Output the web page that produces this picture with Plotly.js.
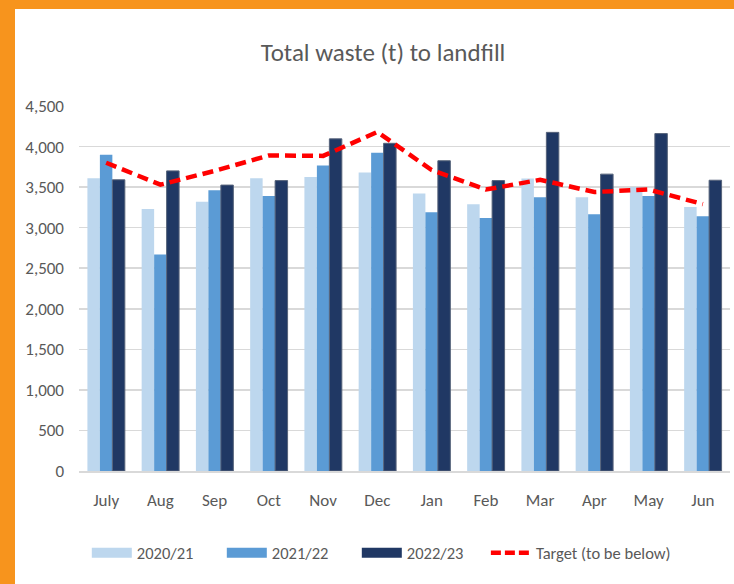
<!DOCTYPE html>
<html>
<head>
<meta charset="utf-8">
<script src="https://cdn.plot.ly/plotly-3.0.1.min.js"></script>
<style>
  html, body { margin: 0; padding: 0; background: #ffffff; }
  #frame { width: 719px; height: 575px; border-left: 15px solid #F7941D; border-top: 9px solid #F7941D; background: #ffffff; }
  #chart { width: 719px; height: 575px; }
</style>
</head>
<body>
<div id="frame"><div id="chart"></div></div>
<script>
const months = ["July","Aug","Sep","Oct","Nov","Dec","Jan","Feb","Mar","Apr","May","Jun"];
const y2020_21 = [3610, 3230, 3320, 3610, 3625, 3680, 3420, 3290, 3605, 3375, 3500, 3255];
const y2021_22 = [3900, 2670, 3460, 3390, 3765, 3925, 3190, 3120, 3375, 3165, 3390, 3140];
const y2022_23 = [3590, 3700, 3525, 3580, 4095, 4040, 3825, 3580, 4175, 3660, 4160, 3585];
const target   = [3800, 3530, 3700, 3890, 3885, 4180, 3710, 3470, 3590, 3440, 3470, 3290];
const yTicks = [0, 500, 1000, 1500, 2000, 2500, 3000, 3500, 4000, 4500];
const yTickText = ["0","500","1,000","1,500","2,000","2,500","3,000","3,500","4,000","4,500"];

const FONT = "Carlito, 'Liberation Sans Narrow', 'Open Sans', sans-serif";
const TXT = "#595959";
const cLight = "#BDD7EE", cMid = "#5B9BD5", cDark = "#203864";

const traces = [
  { type: "bar", x: months, y: y2020_21, name: "2020/21", marker: { color: cLight }, showlegend: false },
  { type: "bar", x: months, y: y2021_22, name: "2021/22", marker: { color: cMid }, showlegend: false },
  { type: "bar", x: months, y: y2022_23, name: "2022/23", marker: { color: cDark, line: { color: "#56637a", width: 1 } }, showlegend: false },
  { type: "scatter", mode: "lines", x: months, y: target, name: "Target (to be below)",
    line: { color: "#FF0000", width: 4.5, dash: "11px,6px" }, showlegend: false },
  // legend entries
  { type: "scatter", mode: "lines", x: [null], y: [null], name: "2020/21", line: { color: cLight, width: 14 }, legend: "legend" },
  { type: "scatter", mode: "lines", x: [null], y: [null], name: "2021/22", line: { color: cMid, width: 14 }, legend: "legend" },
  { type: "scatter", mode: "lines", x: [null], y: [null], name: "2022/23", line: { color: cDark, width: 14 }, legend: "legend" },
  { type: "scatter", mode: "lines", x: [null], y: [null], name: "Target (to be below)", line: { color: "#FF0000", width: 4.5, dash: "10px,4px" }, legend: "legend2" }
];

const legendFont = { family: FONT, size: 16.5, color: TXT };
const layout = {
  width: 719, height: 575,
  margin: { l: 64, r: 4, t: 97, b: 113 },
  paper_bgcolor: "#ffffff", plot_bgcolor: "#ffffff",
  font: { family: FONT, size: 16, color: TXT },
  title: { text: "Total waste (t) to landfill", font: { family: FONT, size: 25, color: TXT },
           x: 0.467, xanchor: "center", xref: "paper", y: 0.925, yanchor: "middle" },
  barmode: "group", bargap: 0.31, bargroupgap: 0,
  xaxis: { type: "category", showgrid: false, showline: true, linecolor: "#d9d9d9", linewidth: 1.5,
           ticks: "", tickfont: { family: FONT, size: 17, color: TXT }, ticklabelstandoff: 13, fixedrange: true },
  yaxis: { range: [0, 4500], tickvals: yTicks, ticktext: yTickText, showgrid: true, gridcolor: "#d9d9d9", gridwidth: 1.5,
           zeroline: false, showline: false, ticks: "", tickfont: { family: FONT, size: 17, color: TXT },
           ticklabelstandoff: 14, fixedrange: true, automargin: false },
  legend: { orientation: "h", x: 0.012, xanchor: "left", y: -0.225, yanchor: "middle",
            font: legendFont, entrywidth: 80, entrywidthmode: "pixels", traceorder: "normal", itemwidth: 40 },
  legend2: { orientation: "h", x: 0.625, xanchor: "left", y: -0.225, yanchor: "middle",
            font: legendFont, traceorder: "normal", itemwidth: 40 },
  showlegend: true
};

Plotly.newPlot("chart", traces, layout, { displayModeBar: false, staticPlot: true });
</script>
</body>
</html>
